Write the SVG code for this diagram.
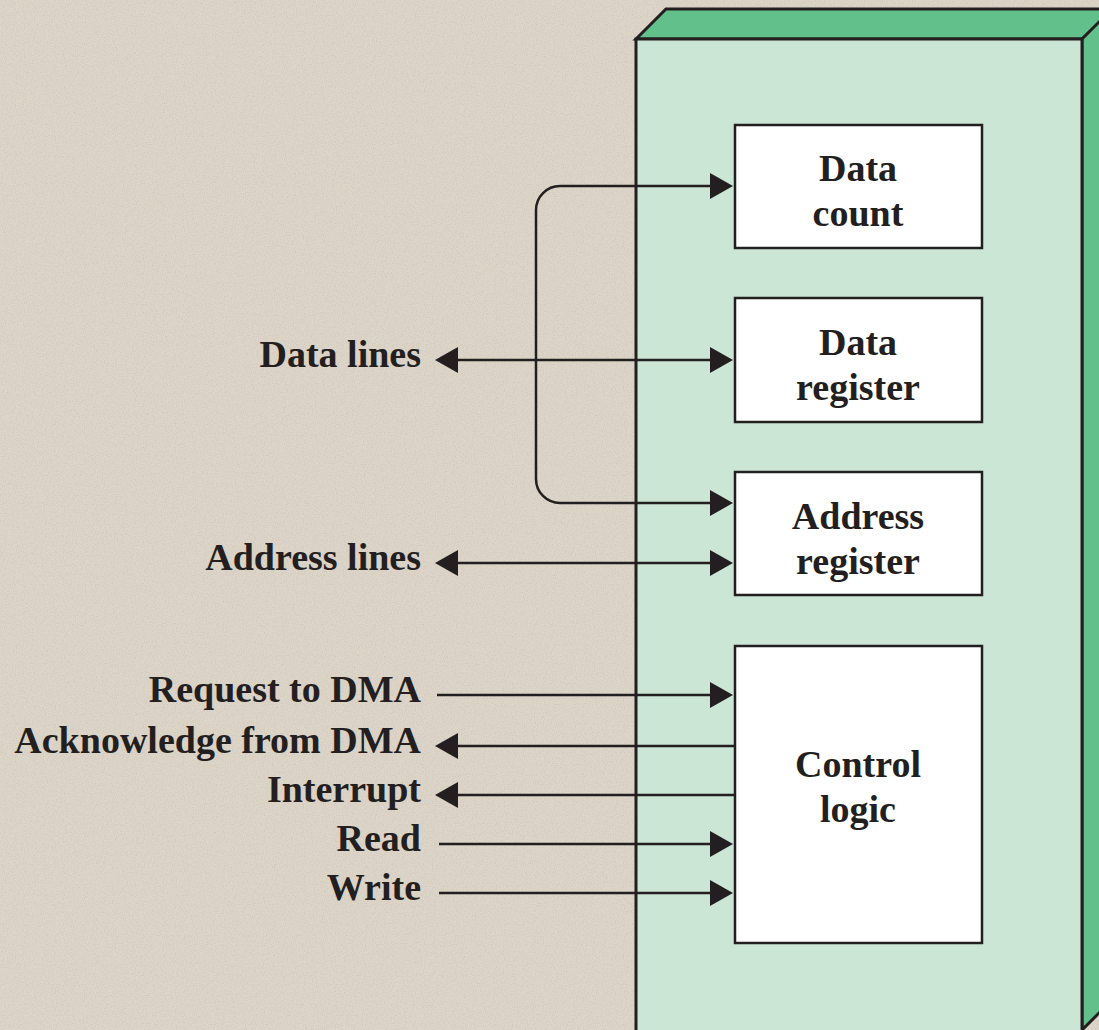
<svg xmlns="http://www.w3.org/2000/svg" width="1099" height="1030" viewBox="0 0 1099 1030">
  <style>
    .lbl { font-family: "Liberation Serif", "Times New Roman", serif; font-weight: bold; font-size: 38px; fill: #231f20; }
    .end { text-anchor: end; }
    .mid { text-anchor: middle; }
    .box { fill: #ffffff; stroke: #231f20; stroke-width: 2.5; }
    .face { fill: #cbe6d5; stroke: #231f20; stroke-width: 3; stroke-linejoin: miter; }
    .side { fill: #62c18b; stroke: #231f20; stroke-width: 3; stroke-linejoin: miter; }
    .wire { fill: none; stroke: #231f20; stroke-width: 2.5; }
  </style>
  <defs>
    <marker id="ah" viewBox="-20 -13 23 26" refX="0" refY="0" markerWidth="23" markerHeight="26" markerUnits="userSpaceOnUse" orient="auto-start-reverse">
      <path d="M3,0 L-20,-13 L-20,13 Z" fill="#231f20"/>
    </marker>
    <filter id="grain" x="0" y="0" width="100%" height="100%">
      <feTurbulence type="fractalNoise" baseFrequency="0.9" numOctaves="2" seed="4" result="n"/>
      <feColorMatrix in="n" type="matrix" values="0 0 0 0 0.45  0 0 0 0 0.42  0 0 0 0 0.38  0 0 0 -2.2 1.25"/>
    </filter>
  </defs>

  <g id="background">
    <rect x="0" y="0" width="1099" height="1030" fill="#ddd5c8"/>
    <rect x="0" y="0" width="1099" height="1030" filter="url(#grain)" opacity="0.35"/>
  </g>

  <g id="dma-module">
    <polygon class="side" points="636,39 666,9 1115,9 1082,39"/>
    <polygon class="side" points="1082,39 1112,9 1112,1000 1082,1030"/>
    <polygon class="face" points="636,39 1082,39 1082,1040 636,1040"/>
  </g>

  <g id="data-count">
    <rect class="box" x="735" y="125" width="247" height="123"/>
    <text class="lbl mid" x="858" y="181">Data</text>
    <text class="lbl mid" x="858" y="226">count</text>
  </g>
  <g id="data-register">
    <rect class="box" x="735" y="298" width="247" height="124"/>
    <text class="lbl mid" x="858" y="355">Data</text>
    <text class="lbl mid" x="858" y="400">register</text>
  </g>
  <g id="address-register">
    <rect class="box" x="735" y="472" width="247" height="123"/>
    <text class="lbl mid" x="858" y="529">Address</text>
    <text class="lbl mid" x="858" y="574">register</text>
  </g>
  <g id="control-logic">
    <rect class="box" x="735" y="646" width="247" height="297"/>
    <text class="lbl mid" x="858" y="777">Control</text>
    <text class="lbl mid" x="858" y="822">logic</text>
  </g>

  <g id="labels">
    <text class="lbl end" x="421" y="367">Data lines</text>
    <text class="lbl end" x="421" y="570">Address lines</text>
    <text class="lbl end" x="421" y="702">Request to DMA</text>
    <text class="lbl end" x="421" y="753">Acknowledge from DMA</text>
    <text class="lbl end" x="421" y="802">Interrupt</text>
    <text class="lbl end" x="421" y="851">Read</text>
    <text class="lbl end" x="421" y="900">Write</text>
  </g>

  <g id="connectors">
    <path class="wire" d="M730,186 H560 A24,24 0 0 0 536,210 V479 A24,24 0 0 0 560,503 H730" marker-start="url(#ah)" marker-end="url(#ah)"/>
    <path class="wire" d="M438,360 H730" marker-start="url(#ah)" marker-end="url(#ah)"/>
    <path class="wire" d="M438,563 H730" marker-start="url(#ah)" marker-end="url(#ah)"/>
    <path class="wire" d="M437,695 H730" marker-end="url(#ah)"/>
    <path class="wire" d="M735,746 H438" marker-end="url(#ah)"/>
    <path class="wire" d="M735,795 H438" marker-end="url(#ah)"/>
    <path class="wire" d="M439,844 H730" marker-end="url(#ah)"/>
    <path class="wire" d="M439,893 H730" marker-end="url(#ah)"/>
  </g>
</svg>
